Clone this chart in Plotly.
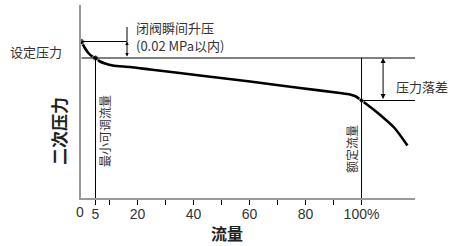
import plotly.graph_objects as go

# ---- data (arbitrary pressure units, flow in %) ----
flow = [0, 1, 2.3, 3.6, 5, 6.6, 8.4, 11.2, 17.3, 24.5, 42.3, 60.2, 78, 92.3, 95.9, 98, 100, 103.6, 107.1, 111.8, 116.4]
pressure = [156.5, 151, 145.5, 142, 140, 136.5, 134.5, 132.5, 131, 128.5, 122.5, 116.5, 110, 105, 103.5, 101.5, 97.5, 90, 82, 70, 52.5]

set_pressure = 140
closing_pressure = 156.5
rated_pressure = 97.5
min_flow = 5
rated_flow = 100
x_max = 119.1
y_max = 193

tick_vals = [5, 10, 20, 30, 40, 50, 60, 70, 80, 90, 100]
tick_text = ["5", "", "20", "", "40", "", "60", "", "80", "", "100%"]

FONT_CJK = "Noto Sans CJK SC"
FONT_NUM = "Liberation Sans, Arial, sans-serif"
TXT = "#333333"

fig = go.Figure()

# main curve
fig.add_trace(go.Scatter(x=flow, y=pressure, mode="lines",
                         line=dict(color="black", width=2.6, shape="spline", smoothing=0.6),
                         hoverinfo="skip", showlegend=False))
# dots
fig.add_trace(go.Scatter(x=[flow[0], flow[4], flow[16]], y=[pressure[0], pressure[4], pressure[16]],
                         mode="markers", marker=dict(color="black", size=[6, 6, 5]),
                         hoverinfo="skip", showlegend=False))

thin = dict(color="black", width=1)
shapes = [
    dict(type="line", xref="x", yref="y", x0=0, x1=16.25, y0=closing_pressure, y1=closing_pressure, line=thin),
    dict(type="line", xref="x", yref="y", x0=0, x1=x_max, y0=set_pressure, y1=set_pressure, line=thin),
    dict(type="line", xref="x", yref="y", x0=rated_flow, x1=x_max, y0=rated_pressure, y1=rated_pressure, line=thin),
    dict(type="line", xref="x", yref="y", x0=min_flow, x1=min_flow, y0=-3, y1=set_pressure, line=thin),
    dict(type="line", xref="x", yref="y", x0=rated_flow, x1=rated_flow, y0=-3, y1=set_pressure, line=thin),
    dict(type="line", xref="x", yref="y", x0=16.25, x1=16.25, y0=closing_pressure, y1=171, line=thin),
]

def px(x):
    return (x - 81) / 334

def py(y):
    return (198 - y) / 193

def label(x, y, text, size=13, angle=0, color=TXT, family=FONT_CJK, xanchor="center"):
    return dict(xref="paper", yref="paper", x=px(x), y=py(y), text=text, textangle=angle,
                showarrow=False, xanchor=xanchor, yanchor="middle",
                font=dict(family=family, size=size, color=color))

annotations = [
    # double arrows
    dict(xref="x", yref="y", axref="x", ayref="y", x=16.25, y=closing_pressure, ax=16.25, ay=set_pressure,
         showarrow=True, arrowhead=2, arrowside="end+start", arrowsize=0.7, arrowwidth=1, arrowcolor="black", text=""),
    dict(xref="x", yref="y", axref="x", ayref="y", x=107.7, y=set_pressure, ax=107.7, ay=rated_pressure,
         showarrow=True, arrowhead=2, arrowside="end+start", arrowsize=1, arrowwidth=1, arrowcolor="black", text=""),
    label(36, 52, "设定压力"),
    label(134, 28, "闭阀瞬间升压", xanchor="left"),
    label(134, 46, "(0.02 MPa以内)", xanchor="left"),
    label(394, 86, "压力落差", xanchor="left"),
    label(58, 131, "<b>二次压力</b>", size=17, angle=-90, color="#222222"),
    label(104, 131, "最小可调流量", size=12, angle=-90),
    label(351, 149, "额定流量", size=12, angle=-90),
    label(227, 233, "<b>流量</b>", size=16, color="#222222"),
    label(80, 212, "0", size=14, family=FONT_NUM),
]

fig.update_layout(
    width=454, height=246,
    margin=dict(l=81, r=39, t=5, b=48),
    paper_bgcolor="white", plot_bgcolor="white",
    shapes=shapes, annotations=annotations,
    xaxis=dict(range=[-0.18, x_max], showgrid=False, zeroline=False,
               showline=True, linecolor="#999999", linewidth=1.5,
               tickmode="array", tickvals=tick_vals, ticktext=tick_text,
               ticks="outside", ticklen=5, tickwidth=1, tickcolor="black",
               ticklabelstandoff=-3,
               tickfont=dict(family=FONT_NUM, size=14, color=TXT)),
    yaxis=dict(range=[0, y_max], showgrid=False, zeroline=False,
               showline=True, linecolor="#999999", linewidth=1.5,
               showticklabels=False, ticks=""),
)

fig.write_html("out.html")
